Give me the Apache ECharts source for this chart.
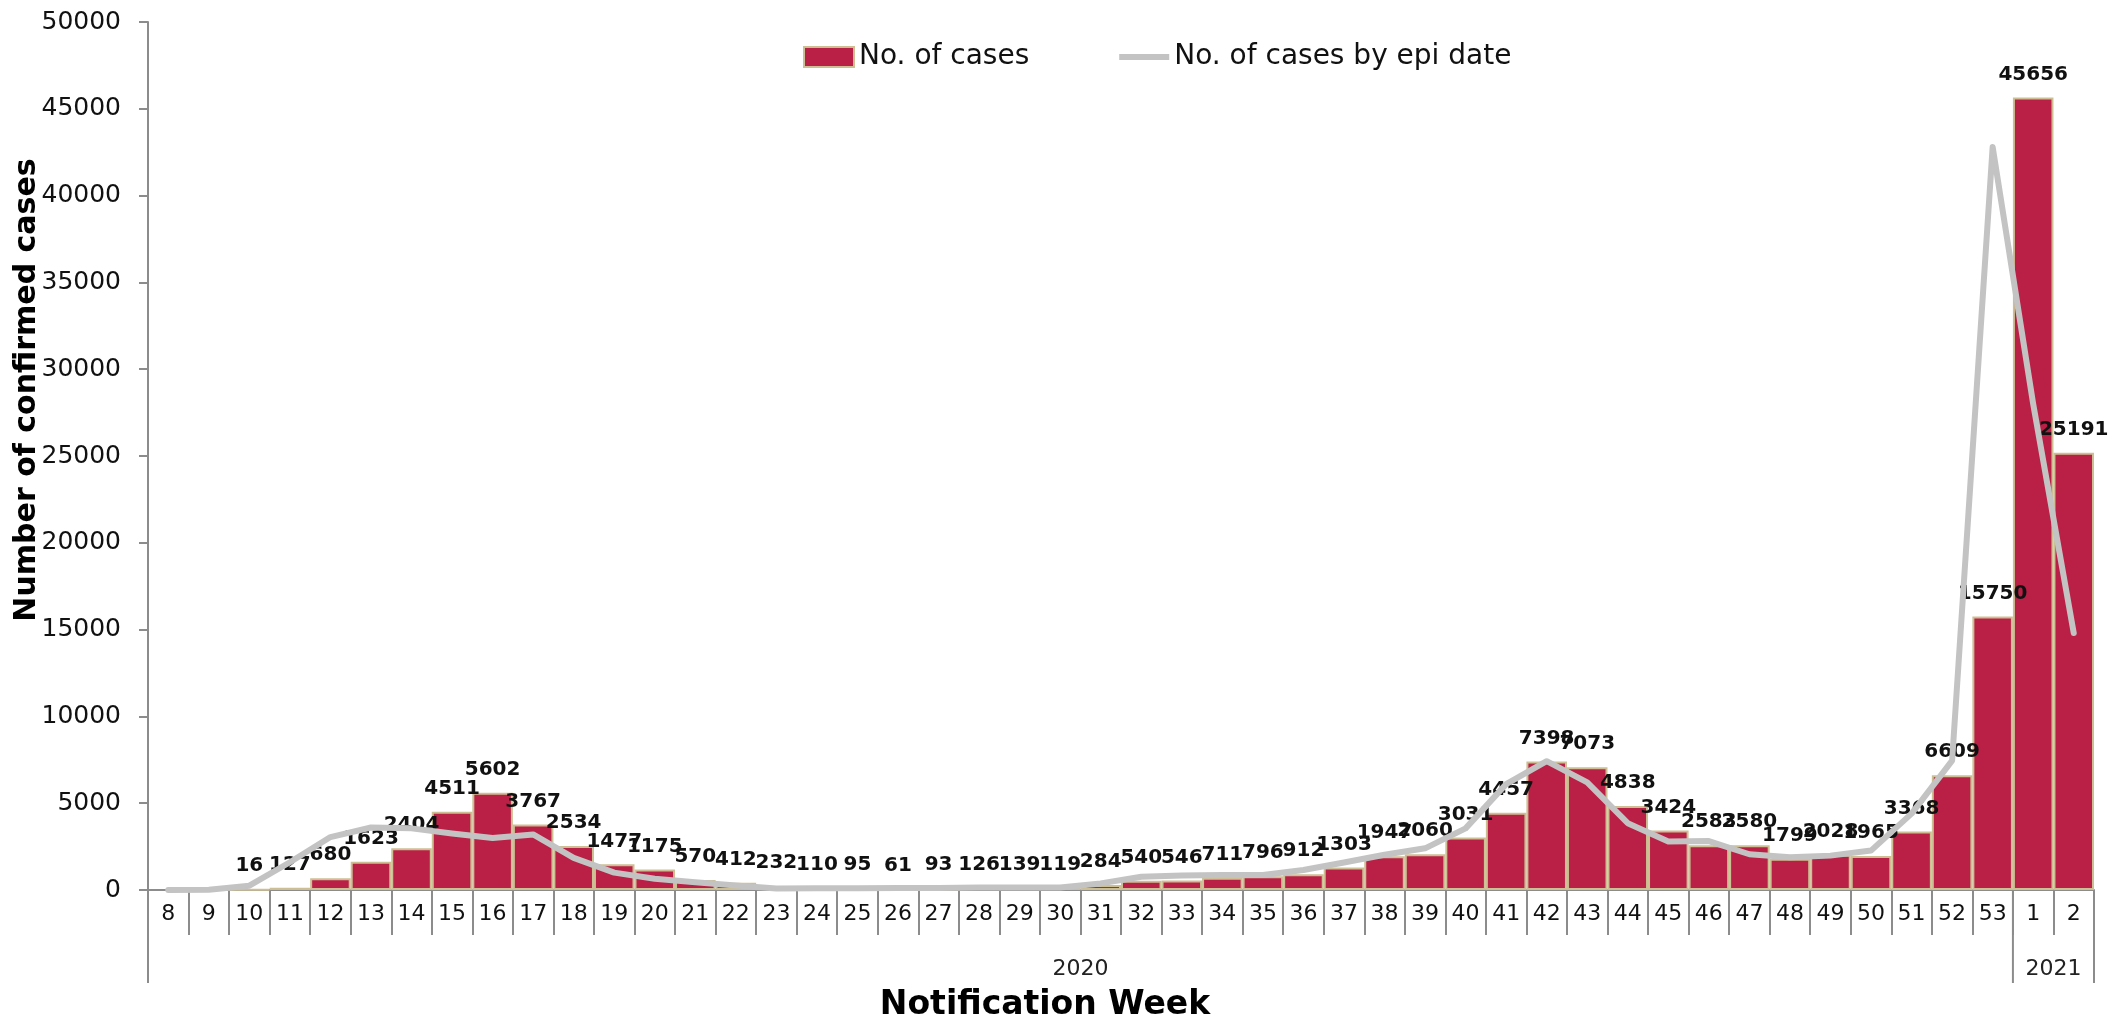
<!DOCTYPE html>
<html>
<head>
<meta charset="utf-8">
<script src="https://cdn.jsdelivr.net/npm/echarts@6/dist/echarts.min.js"></script>
<style>
html,body{margin:0;padding:0;background:#fff;}
#chart{width:2113px;height:1018px;}
</style>
</head>
<body>
<div id="chart"></div>
<script>
const weeks = ['8','9','10','11','12','13','14','15','16','17','18','19','20','21','22','23','24','25','26','27','28','29','30','31','32','33','34','35','36','37','38','39','40','41','42','43','44','45','46','47','48','49','50','51','52','53','1','2'];
const yearLabels = ['2020','2021'];
const yearWeekCounts = [46, 2];
const cases = [null,null,16,127,680,1623,2404,4511,5602,3767,2534,1477,1175,570,412,232,110,95,61,93,126,139,119,284,540,546,711,796,912,1303,1947,2060,3031,4457,7398,7073,4838,3424,2583,2580,1799,2028,1965,3368,6609,15750,45656,25191];
const casesByEpiDate = [0,20,250,1600,3050,3600,3550,3250,3000,3200,1850,1000,650,450,260,80,100,100,110,120,140,150,150,380,760,830,860,860,1150,1580,2030,2400,3550,6100,7420,6200,3850,2800,2820,2060,1880,1980,2270,4400,7450,42800,28000,14800];
const yTicks = {min:0, max:50000, interval:5000};

const FONT = 'DejaVu Sans';
const chart = echarts.init(document.getElementById('chart'), null, {renderer:'canvas'});
const option = {
  animation:false,
  textStyle:{fontFamily:FONT},
  grid:{left:148, right:19, top:22, bottom:128, containLabel:false},
  legend:{
    left:798, top:38, itemWidth:50, itemHeight:20, itemGap:90, symbolKeepAspect:true,
    textStyle:{fontFamily:FONT, fontSize:28, color:'#111'},
    data:[
      {name:'No. of cases', icon:'rect'},
      {name:'No. of cases by epi date', icon:'path://M0,0 L100,0 L100,12 L0,12 Z'}
    ]
  },
  xAxis:{
    type:'category', data:weeks, boundaryGap:true,
    axisLine:{show:true, lineStyle:{color:'#8c8c8c', width:2}},
    axisTick:{show:true, length:45, lineStyle:{color:'#8c8c8c', width:2}},
    axisLabel:{interval:0, margin:13, fontFamily:FONT, fontSize:22, color:'#111'},
    splitLine:{show:false}
  },
  yAxis:{
    type:'value', min:yTicks.min, max:yTicks.max, interval:yTicks.interval,
    axisLine:{show:true, lineStyle:{color:'#8c8c8c', width:2}},
    axisTick:{show:true, length:9, lineStyle:{color:'#8c8c8c', width:2}},
    axisLabel:{margin:27, fontFamily:FONT, fontSize:25, color:'#111', formatter:(v)=>String(v)},
    splitLine:{show:false}
  },
  series:[
    {
      name:'No. of cases', type:'bar', data:cases, barCategoryGap:'0%',
      itemStyle:{color:'#BA1F45', borderColor:'#CDBF93', borderWidth:2},
      label:{show:true, position:'top', distance:13, fontFamily:FONT, fontSize:20, fontWeight:'bold', color:'#111'},
      z:2
    },
    {
      name:'No. of cases by epi date', type:'line', data:casesByEpiDate,
      symbol:'none', smooth:false,
      lineStyle:{color:'#C3C3C3', width:6, cap:'round', join:'round'},
      itemStyle:{color:'#C3C3C3'},
      z:3
    }
  ]
};
chart.setOption(option);

// Year grouping lines and labels, positioned via the chart's own axis scales
function addYearGroups(){
  const c0 = chart.convertToPixel({xAxisIndex:0}, 0);
  const c1 = chart.convertToPixel({xAxisIndex:0}, 1);
  const half = (c1 - c0) / 2;
  const y0 = chart.convertToPixel({yAxisIndex:0}, 0);
  const elements = [];
  let start = 0;
  const boundaries = [0];
  yearLabels.forEach((yl, gi) => {
    const end = start + yearWeekCounts[gi];
    boundaries.push(end);
    const xs = chart.convertToPixel({xAxisIndex:0}, start) - half;
    const xe = chart.convertToPixel({xAxisIndex:0}, end - 1) + half;
    elements.push({
      type:'text', x:(xs+xe)/2, y:y0+79,
      style:{text:yl, fontFamily:FONT, fontSize:22, fill:'#222', align:'center', verticalAlign:'middle'}
    });
    start = end;
  });
  boundaries.forEach(b => {
    const x = b < weeks.length ? chart.convertToPixel({xAxisIndex:0}, b) - half
                               : chart.convertToPixel({xAxisIndex:0}, b - 1) + half;
    elements.push({
      type:'line', shape:{x1:x, y1:y0, x2:x, y2:y0+93},
      style:{stroke:'#8c8c8c', lineWidth:2}
    });
  });
  elements.push({
    type:'text', x:1045, y:y0+115,
    style:{text:'Notification Week', fontFamily:FONT, fontSize:33, fontWeight:'bold', fill:'#000', align:'center', verticalAlign:'middle'}
  });
  elements.push({
    type:'text', x:27, y:390, rotation:Math.PI/2,
    style:{text:'Number of confirmed cases', fontFamily:FONT, fontSize:30, fontWeight:'bold', fill:'#000', align:'center', verticalAlign:'middle'}
  });
  chart.setOption({graphic:{elements:elements}});
}
addYearGroups();
</script>
</body>
</html>
